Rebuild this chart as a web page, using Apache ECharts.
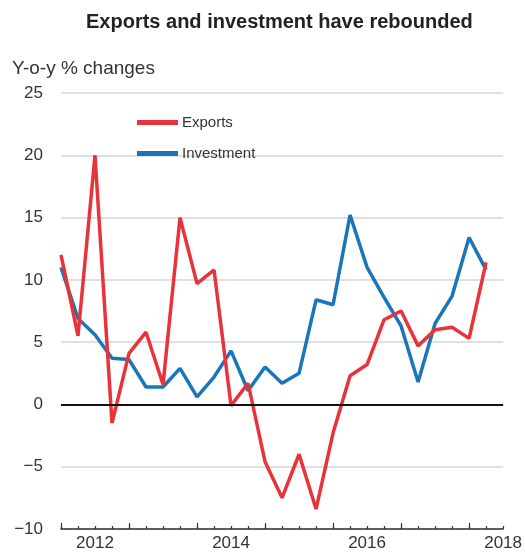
<!DOCTYPE html>
<html>
<head>
<meta charset="utf-8">
<script src="https://cdn.jsdelivr.net/npm/echarts@6/dist/echarts.min.js"></script>
<style>
  html, body { margin: 0; padding: 0; background: #fff; }
  #chart { width: 525px; height: 559px; }
</style>
</head>
<body>
<div id="chart"></div>
<script>
// quarters on the x axis, 2012Q1 .. 2018Q3 (last one is only the axis end)
const quarters = [];
for (let y = 2012; y <= 2018; y++) {
    for (let q = 1; q <= 4; q++) {
        if (quarters.length < 27) quarters.push(y + 'Q' + q);
    }
}
const exports = [12, 5.5, 20, -1.5, 4.1, 5.8, 1.6, 15, 9.7, 10.8, -0.1, 1.7, -4.6, -7.5, -4, -8.4, -2.3, 2.3, 3.2, 6.8, 7.5, 4.7, 6, 6.2, 5.3, 11.4];
const investment = [11, 6.9, 5.6, 3.7, 3.6, 1.4, 1.4, 2.9, 0.6, 2.2, 4.3, 1.1, 3, 1.7, 2.5, 8.4, 8, 15.2, 11, 8.6, 6.3, 1.8, 6.5, 8.7, 13.4, 10.8];
const yearLabelIdx = [2, 10, 18, 26];

const textColor = '#333';
const font = 'Liberation Sans, Arial, sans-serif';

const myChart = echarts.init(document.getElementById('chart'));
const option = {
    animation: false,
    title: [
        {
            text: 'Exports and investment have rebounded',
            left: 86,
            top: 12,
            padding: 0,
            textStyle: { fontSize: 20, fontWeight: 'bold', color: '#222', fontFamily: font }
        },
        {
            text: 'Y-o-y % changes',
            left: 12,
            top: 59,
            padding: 0,
            textStyle: { fontSize: 19, fontWeight: 'normal', color: textColor, fontFamily: font }
        }
    ],
    legend: {
        orient: 'vertical',
        left: 137,
        top: 115,
        padding: 0,
        itemWidth: 41,
        itemHeight: 5,
        itemGap: 16,
        icon: 'rect',
        textStyle: { fontSize: 15, color: textColor, fontFamily: font, padding: [0, 0, 0, -1] },
        data: ['Exports', 'Investment']
    },
    grid: { left: 61, right: 19, top: 93, bottom: 30 },
    xAxis: [
        {
            type: 'category',
            data: quarters,
            boundaryGap: false,
            axisLine: { onZero: false, lineStyle: { color: '#333', width: 1.5 } },
            axisTick: { inside: true, length: 3, interval: 0, lineStyle: { color: '#333', width: 1.2 } },
            axisLabel: {
                interval: (i) => yearLabelIdx.includes(i),
                formatter: (v) => v.slice(0, 4),
                fontSize: 17, color: textColor, fontFamily: font, margin: 6
            },
            splitLine: { show: false }
        },
        {
            type: 'category',
            data: quarters,
            boundaryGap: false,
            position: 'bottom',
            axisLine: { show: false, onZero: false },
            axisTick: { inside: true, length: 6, interval: (i) => i % 4 === 0, lineStyle: { color: '#333', width: 1.2 } },
            axisLabel: { show: false },
            splitLine: { show: false }
        }
    ],
    yAxis: {
        type: 'value',
        min: -10,
        max: 25,
        interval: 5,
        axisLine: { show: false },
        axisTick: { show: false },
        axisLabel: {
            fontSize: 17, color: textColor, fontFamily: font, margin: 18,
            formatter: (v) => String(v).replace('-', '\u2212')
        },
        splitLine: { lineStyle: { color: '#d6d6d6', width: 1.5 } }
    },
    series: [
        {
            name: 'Exports',
            type: 'line',
            data: exports,
            symbol: 'none',
            lineStyle: { color: '#e8333b', width: 3.5 },
            itemStyle: { color: '#e8333b' },
            markLine: {
                silent: true,
                symbol: 'none',
                label: { show: false },
                lineStyle: { color: '#111', width: 2, type: 'solid' },
                data: [{ yAxis: 0 }]
            },
            z: 3
        },
        {
            name: 'Investment',
            type: 'line',
            data: investment,
            symbol: 'none',
            lineStyle: { color: '#1a76bb', width: 3.5 },
            itemStyle: { color: '#1a76bb' },
            z: 2
        }
    ]
};
myChart.setOption(option);
</script>
</body>
</html>
